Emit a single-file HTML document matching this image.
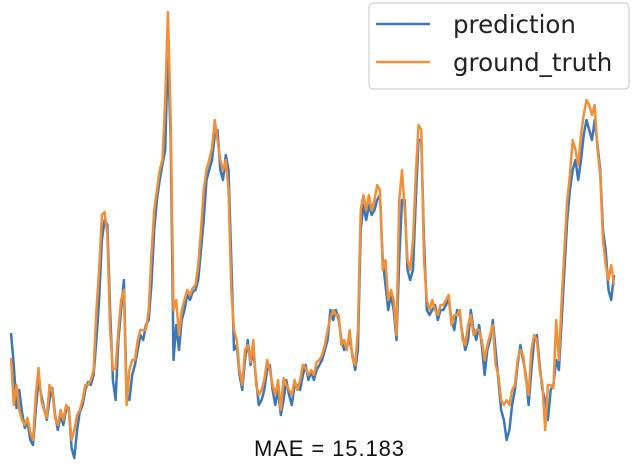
<!DOCTYPE html>
<html><head><meta charset="utf-8"><style>
html,body{margin:0;padding:0;background:#fff;}
svg{display:block;}
</style></head><body>
<svg id="chart" width="634" height="472" viewBox="0 0 634 472" xmlns="http://www.w3.org/2000/svg">
<g id="series"></g>
<g>
<rect x="369" y="3" width="260" height="86" rx="4" fill="#fff" fill-opacity="0.85" stroke="#d0d0d0" stroke-width="1.2"/>
<line x1="376" y1="24" x2="430" y2="24" stroke="#3b78b8" stroke-width="2.5"/>
<text x="453" y="33" font-family="DejaVu Sans, sans-serif" font-size="24.5" fill="#222">prediction</text>
<line x1="376" y1="62" x2="430" y2="62" stroke="#f0913a" stroke-width="2.5"/>
<text x="453" y="71" font-family="DejaVu Sans, sans-serif" font-size="24.5" fill="#222">ground_truth</text>
</g>
<text x="329" y="456" text-anchor="middle" font-family="Liberation Sans, sans-serif" font-size="22" textLength="150" fill="#111">MAE = 15.183</text>
</svg>
<script>
const groundTruth = [102,55,75,50,40,35,42,28,20,65,92,60,50,42,75,70,42,35,50,40,55,50,20,30,45,50,60,75,75,80,90,150,190,245,248,225,130,90,92,130,160,170,55,90,100,100,120,130,130,130,150,205,250,270,290,300,360,448,340,150,160,125,150,160,170,165,172,175,195,230,270,290,300,312,340,320,300,290,300,270,170,130,120,90,75,110,115,98,120,75,65,70,80,100,90,75,65,80,50,82,75,70,65,80,70,80,95,92,85,90,85,98,
100,105,115,130,142,150,145,145,115,120,110,130,102,95,130,250,265,250,265,250,260,275,270,190,200,160,170,160,125,260,290,250,200,190,220,285,335,330,200,160,150,160,150,145,155,155,160,165,135,145,145,150,120,115,135,145,125,130,130,120,100,115,125,135,95,85,60,55,60,55,70,75,100,110,105,80,65,110,125,120,90,75,30,75,75,72,140,100,160,210,260,285,320,310,295,325,345,360,355,345,355,310,285,220,195,180,195,175];
const prediction = [127,95,52,70,48,32,38,20,15,50,80,65,52,40,60,72,45,30,45,35,50,52,12,2,30,48,55,70,78,75,85,120,160,220,240,235,150,80,60,120,150,180,65,60,85,95,110,125,120,135,140,175,230,260,280,295,310,410,320,100,135,110,140,150,165,160,168,170,180,210,240,280,290,300,325,330,290,280,305,290,200,110,115,85,70,100,120,95,110,80,55,60,70,90,95,70,55,70,45,60,80,65,55,75,75,70,85,95,80,88,80,90,
95,100,110,120,150,140,150,140,120,110,115,120,105,90,110,230,255,240,255,245,250,260,265,200,175,150,165,150,120,200,260,260,190,180,190,260,320,320,220,150,145,150,155,140,150,150,155,160,140,130,150,145,125,110,120,150,130,120,135,115,85,110,120,140,110,80,50,40,20,30,55,70,95,115,100,85,55,90,120,125,95,70,60,40,70,75,100,90,140,190,240,270,290,300,280,300,325,340,330,320,340,315,290,230,210,170,160,185];
const xDomain=[0,groundTruth.length-1], xRange=[11,614];
const yDomain=[0,450], yRange=[460,10];
function xScale(i){return xRange[0]+(i-xDomain[0])/(xDomain[1]-xDomain[0])*(xRange[1]-xRange[0]);}
function yScale(v){return yRange[0]+(v-yDomain[0])/(yDomain[1]-yDomain[0])*(yRange[1]-yRange[0]);}
const g=document.getElementById('series');
function draw(arr,color,name){
  const p=document.createElementNS('http://www.w3.org/2000/svg','path');
  
  
  p.setAttribute('d',arr.map((v,i)=>(i?'L':'M')+xScale(i).toFixed(1)+','+yScale(v).toFixed(1)).join(''));
  p.setAttribute('fill','none');p.setAttribute('stroke',color);
  p.setAttribute('stroke-width','2.5');p.setAttribute('stroke-linejoin','round');
  g.appendChild(p);
}
draw(prediction,'#3b78b8','prediction-line');
draw(groundTruth,'#f0913a','ground-truth-line');
</script>
</body></html>
